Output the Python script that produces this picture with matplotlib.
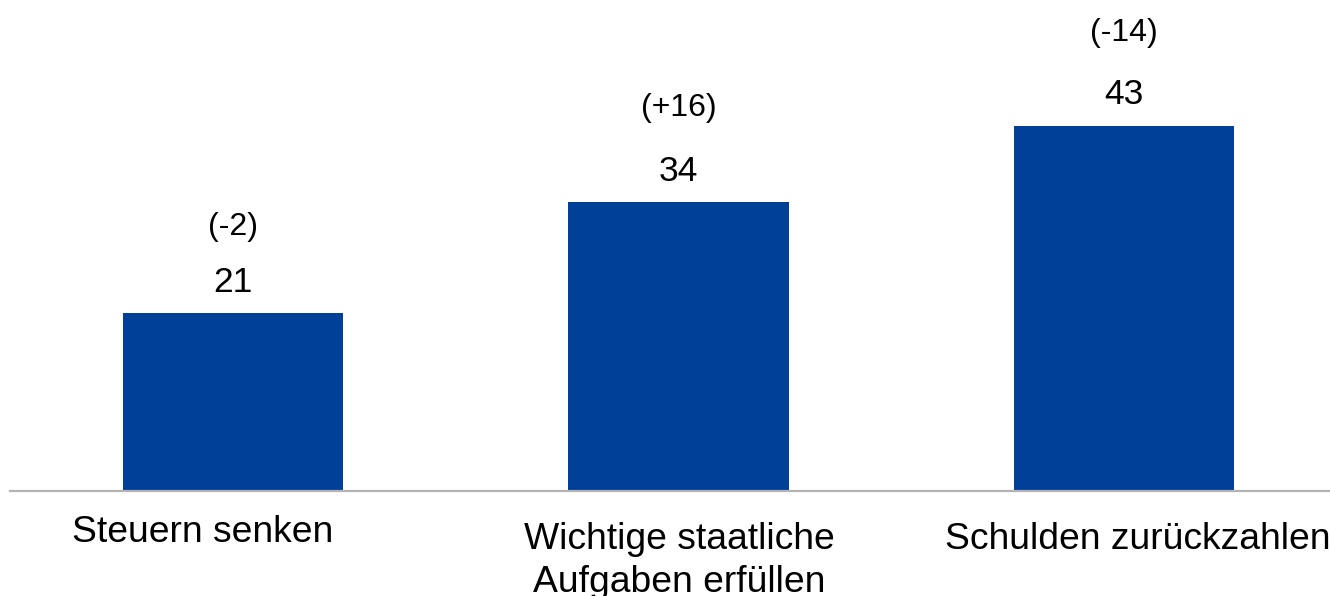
import matplotlib
matplotlib.use("Agg")
import matplotlib.pyplot as plt

plt.rcParams['font.family'] = ['Liberation Sans', 'DejaVu Sans']

categories = ["Steuern senken", "Wichtige staatliche\nAufgaben erfüllen", "Schulden zurückzahlen"]
values = [21, 34, 43]
changes = ["(-2)", "(+16)", "(-14)"]

bar_color = "#004098"
PX = 72 / 100  # points per pixel
label_dx = [-30, 1, 14]   # px shift of category labels
label_dy = [24, 31, 31]   # px below axis to cap top
change_dy = [78, 86, 85]  # px above bar to baseline

fig = plt.figure(figsize=(13.3, 5.96), dpi=100)
ax = fig.add_axes([10 / 1330, 105 / 596, 1320 / 1330, 491 / 596])

x = range(len(values))
ax.bar(x, values, width=0.494, color=bar_color, zorder=2)
ax.set_xlim(-0.5, 2.462)
ax.set_ylim(0, 491 / 8.5)

for i, v in enumerate(values):
    ax.annotate(str(v), (i, v), xytext=(0, 21 * PX), textcoords="offset points",
                ha="center", va="baseline", fontsize=25.5, color="black")
    ax.annotate(changes[i], (i, v), xytext=(0, change_dy[i] * PX), textcoords="offset points",
                ha="center", va="baseline", fontsize=23, color="black")
    ax.annotate(categories[i], (i, 0), xytext=(label_dx[i] * PX, -label_dy[i] * PX),
                textcoords="offset points", ha="center", va="top",
                fontsize=26.8, linespacing=1.28, color="black",
                annotation_clip=False)

for s in ["top", "right", "left"]:
    ax.spines[s].set_visible(False)
ax.spines["bottom"].set_color("#B4B4B4")
ax.spines["bottom"].set_linewidth(1.6)
ax.set_xticks([])
ax.set_yticks([])

fig.savefig("out.png", dpi=100)
